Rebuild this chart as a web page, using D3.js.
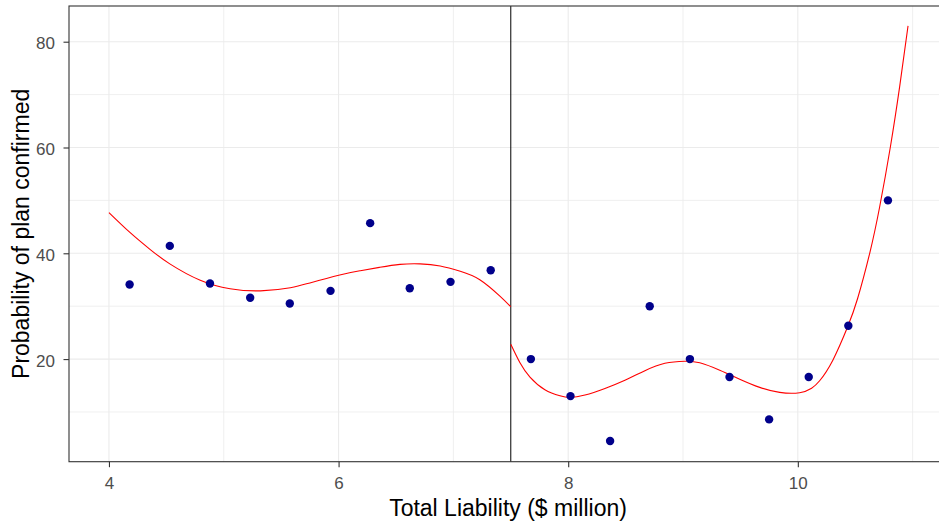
<!DOCTYPE html>
<html>
<head>
<meta charset="utf-8">
<script src="https://cdn.jsdelivr.net/npm/d3@7"></script>
<style>
  html, body { margin: 0; padding: 0; background: #fff; }
  svg { display: block; font-family: "Liberation Sans", Arial, sans-serif; }
</style>
</head>
<body>
<svg id="chart" width="939" height="529"></svg>
<script>
// ---- data ----
const liability = [4.18, 4.53, 4.88, 5.23, 5.575, 5.93, 6.275, 6.62, 6.975, 7.325,
                   7.675, 8.02, 8.365, 8.71, 9.06, 9.405, 9.75, 10.095, 10.44, 10.785];
const probConfirmed = [34.1, 41.4, 34.3, 31.6, 30.5, 32.9, 45.7, 33.4, 34.6, 36.8,
                       20.0, 13.0, 4.5, 30.0, 20.0, 16.6, 8.6, 16.6, 26.3, 50.0];

// fitted curve (left of cutoff)
const fitLeftX = [4.00, 4.185, 4.36, 4.53, 4.795, 5.055, 5.32, 5.58, 5.75, 6.01,
                  6.19, 6.36, 6.535, 6.71, 6.885, 7.06, 7.23, 7.405, 7.50];
const fitLeftY = [47.7, 43.9, 40.7, 38.0, 34.9, 33.3, 32.9, 33.5, 34.4, 35.9,
                  36.7, 37.35, 37.9, 38.0, 37.6, 36.6, 35.0, 31.9, 29.9];
// fitted curve (right of cutoff)
const fitRightX = [7.50, 7.58, 7.667, 7.797, 7.928, 8.015, 8.146, 8.32, 8.494, 8.668,
                   8.842, 9.016, 9.146, 9.32, 9.494, 9.668, 9.842, 10.016, 10.12, 10.19,
                   10.305, 10.434, 10.52, 10.626, 10.713, 10.806, 10.887, 10.96];
const fitRightY = [22.8, 19.3, 16.6, 14.2, 13.05, 12.75, 13.2, 14.45, 16.0, 17.8,
                   19.2, 19.6, 19.3, 17.9, 16.2, 14.65, 13.7, 13.65, 14.5, 15.9,
                   19.8, 26.1, 31.4, 40.0, 48.8, 60.1, 71.5, 83.0];

const cutoff = 7.5;
const xTicks = [4, 6, 8, 10];
const xMinor = [5, 7, 9, 11];
const yTicks = [20, 40, 60, 80];
const yMinor = [10, 30, 50, 70];
const xTitle = "Total Liability ($ million)";
const yTitle = "Probability of plan confirmed";

// ---- layout ----
const svg = d3.select("#chart");
const panel = { left: 69, top: 6, right: 948, bottom: 461.7 };
const x = d3.scaleLinear().domain([3.652, 11.308]).range([panel.left, panel.right]);
const y = d3.scaleLinear().domain([0.6, 86.75]).range([panel.bottom, panel.top]);

svg.append("rect").attr("width", 939).attr("height", 529).attr("fill", "#fff");

const grid = svg.append("g");
// minor grid
grid.selectAll(".xm").data(xMinor).join("line")
  .attr("x1", d => x(d)).attr("x2", d => x(d))
  .attr("y1", panel.top).attr("y2", panel.bottom)
  .attr("stroke", "#EBEBEB").attr("stroke-width", 0.8);
grid.selectAll(".ym").data(yMinor).join("line")
  .attr("y1", d => y(d)).attr("y2", d => y(d))
  .attr("x1", panel.left).attr("x2", panel.right)
  .attr("stroke", "#EBEBEB").attr("stroke-width", 0.8);
// major grid
grid.selectAll(".xM").data(xTicks).join("line")
  .attr("x1", d => x(d)).attr("x2", d => x(d))
  .attr("y1", panel.top).attr("y2", panel.bottom)
  .attr("stroke", "#EBEBEB").attr("stroke-width", 1.1);
grid.selectAll(".yM").data(yTicks).join("line")
  .attr("y1", d => y(d)).attr("y2", d => y(d))
  .attr("x1", panel.left).attr("x2", panel.right)
  .attr("stroke", "#EBEBEB").attr("stroke-width", 1.1);

// vertical cutoff line
svg.append("line")
  .attr("x1", x(cutoff)).attr("x2", x(cutoff))
  .attr("y1", panel.top).attr("y2", panel.bottom)
  .attr("stroke", "#000").attr("stroke-width", 1);

// fitted curves
const line = d3.line().x(d => x(d[0])).y(d => y(d[1])).curve(d3.curveNatural);
svg.append("path").datum(d3.zip(fitLeftX, fitLeftY))
  .attr("d", line).attr("fill", "none").attr("stroke", "#FF0000").attr("stroke-width", 1.1);
svg.append("path").datum(d3.zip(fitRightX, fitRightY))
  .attr("d", line).attr("fill", "none").attr("stroke", "#FF0000").attr("stroke-width", 1.1);

// points
svg.append("g").selectAll("circle").data(d3.zip(liability, probConfirmed)).join("circle")
  .attr("cx", d => x(d[0])).attr("cy", d => y(d[1])).attr("r", 4.2)
  .attr("fill", "#00008B");

// panel border
svg.append("rect")
  .attr("x", panel.left).attr("y", panel.top)
  .attr("width", panel.right - panel.left).attr("height", panel.bottom - panel.top)
  .attr("fill", "none").attr("stroke", "#333333").attr("stroke-width", 1.1);

// axes
const xAxis = d3.axisBottom(x).tickValues(xTicks).tickSize(5.5).tickPadding(10).tickFormat(d3.format("d"));
const gx = svg.append("g").attr("transform", `translate(0,${panel.bottom})`).call(xAxis);
gx.select(".domain").remove();
gx.selectAll(".tick line").attr("stroke", "#333333").attr("stroke-width", 1.1);
gx.selectAll(".tick text").attr("fill", "#4D4D4D").style("font-size", "17px")
  .style("font-family", "Liberation Sans, Arial, sans-serif");

const yAxis = d3.axisLeft(y).tickValues(yTicks).tickSize(5.5).tickPadding(8.5).tickFormat(d3.format("d"));
const gy = svg.append("g").attr("transform", `translate(${panel.left},0)`).call(yAxis);
gy.select(".domain").remove();
gy.selectAll(".tick line").attr("stroke", "#333333").attr("stroke-width", 1.1);
gy.selectAll(".tick text").attr("fill", "#4D4D4D").style("font-size", "17px")
  .attr("dy", "0.42em")
  .style("font-family", "Liberation Sans, Arial, sans-serif");

// titles
svg.append("text")
  .attr("x", 508).attr("y", 516)
  .attr("text-anchor", "middle").attr("fill", "#000")
  .style("font-size", "23px").text(xTitle);
svg.append("text")
  .attr("transform", `translate(28.5,${(panel.top + panel.bottom) / 2}) rotate(-90)`)
  .attr("text-anchor", "middle").attr("fill", "#000")
  .style("font-size", "23px").text(yTitle);
</script>
</body>
</html>
